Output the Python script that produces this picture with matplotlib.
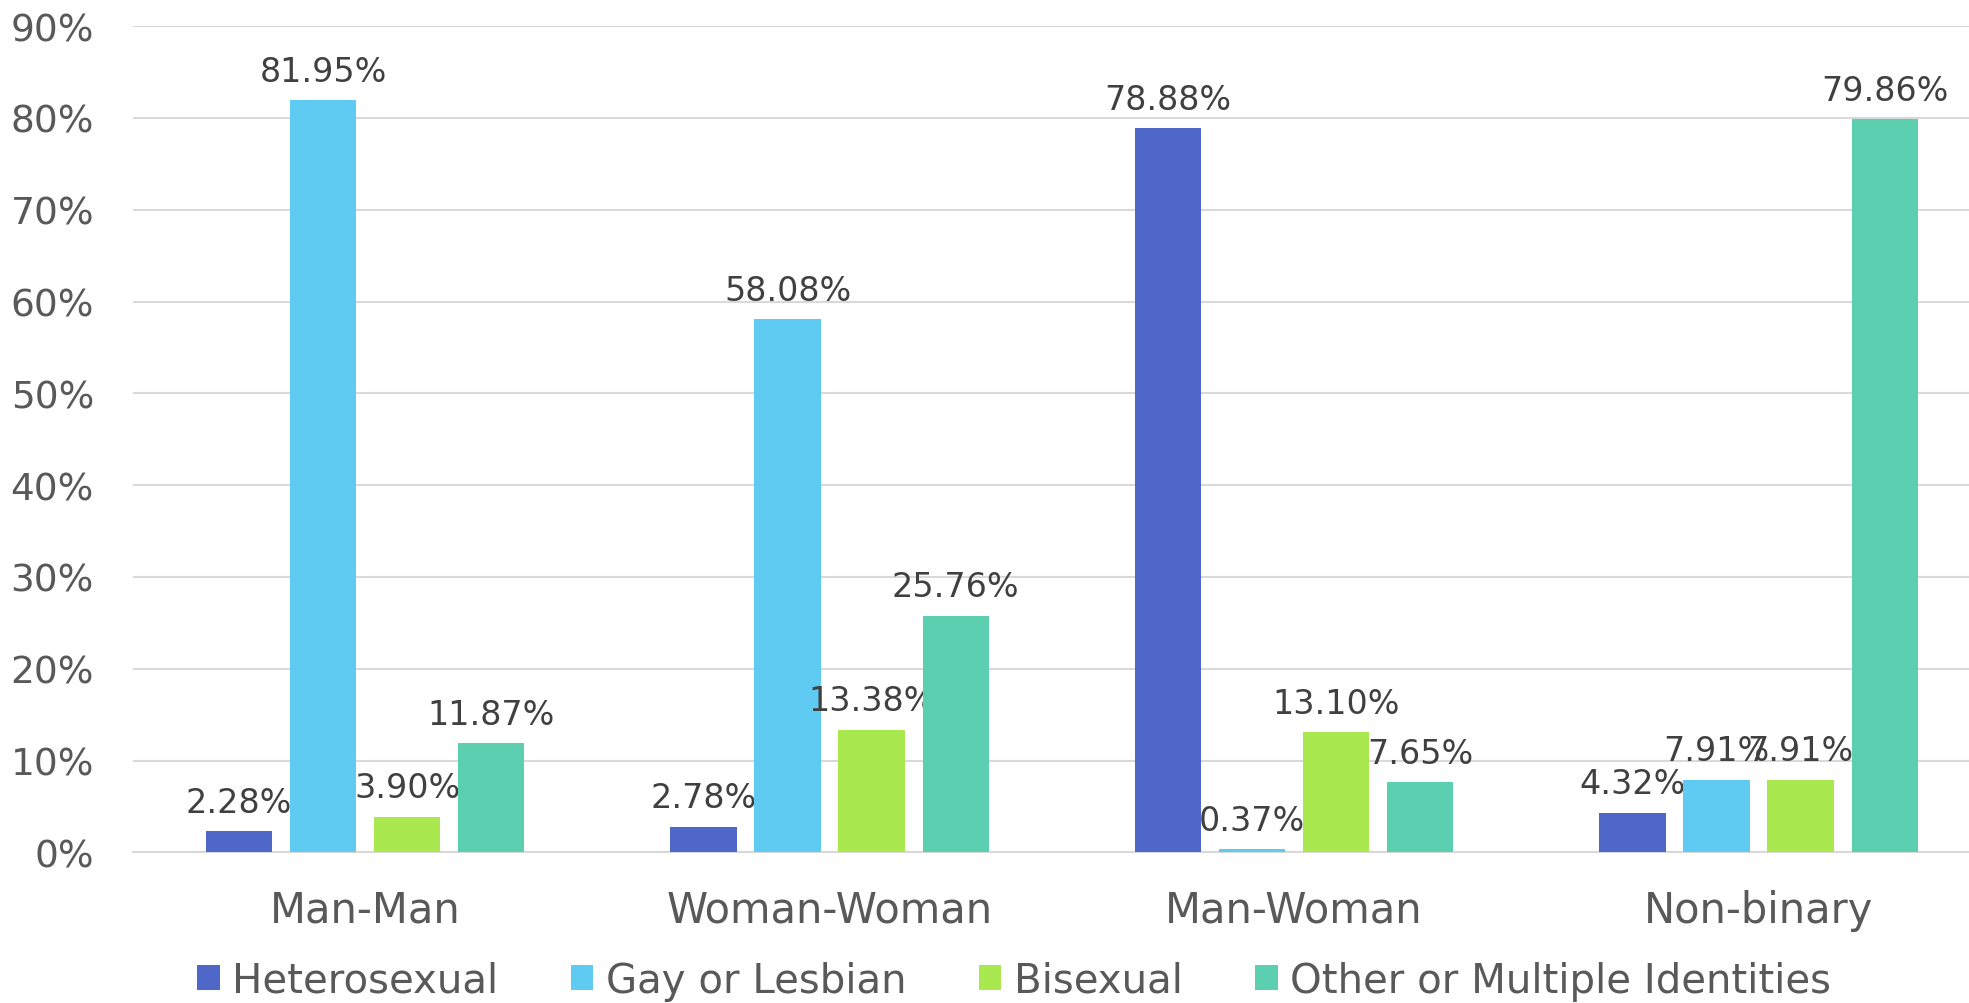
import numpy as np
import matplotlib.pyplot as plt

# Datos
categories = ["Man-Man", "Woman-Woman", "Man-Woman", "Non-binary"]
series_names = ["Heterosexual", "Gay or Lesbian", "Bisexual", "Other or Multiple Identities"]
heterosexual = [2.28, 2.78, 78.88, 4.32]
gay_lesbian = [81.95, 58.08, 0.37, 7.91]
bisexual = [3.90, 13.38, 13.10, 7.91]
other_multiple = [11.87, 25.76, 7.65, 79.86]

colors = ["#4F67C8", "#5FCBF2", "#A9E94F", "#5CCFB0"]
series = [heterosexual, gay_lesbian, bisexual, other_multiple]

plt.rcParams["font.family"] = ["DejaVu Sans"]

fig = plt.figure(figsize=(19.69, 10.04), dpi=100)
# el eje se sale un poco por la derecha, como en el original
ax = fig.add_axes([0.0675, 0.150, 0.9436, 0.823])

x = np.arange(len(categories))
width = 0.143
step = 0.181

for i, (name, vals, col) in enumerate(zip(series_names, series, colors)):
    pos = x + (i - 1.5) * step
    bars = ax.bar(pos, np.array(vals) / 100, width, color=col, label=name, zorder=3)
    for b, v in zip(bars, vals):
        ax.annotate(f"{v:.2f}%", (b.get_x() + b.get_width() / 2, b.get_height()),
                    xytext=(0, 9), textcoords="offset points", ha="center", va="bottom",
                    fontsize=24, color="#404040")

ax.set_xlim(-0.5, 3.5)
ax.set_ylim(0, 0.9)
yt = np.arange(0, 0.91, 0.1)
ax.set_yticks(yt)
ax.set_yticklabels([f"{int(round(t * 100))}%" for t in yt])
ax.set_xticks(x)
ax.set_xticklabels(categories)
ax.tick_params(axis="both", length=0, colors="#595959")
ax.tick_params(axis="x", pad=26, labelsize=30)
ax.tick_params(axis="y", pad=28, labelsize=27)

ax.grid(axis="y", color="#D9D9D9", linewidth=1.5, zorder=0)
for s in ["top", "right", "left"]:
    ax.spines[s].set_visible(False)
ax.spines["bottom"].set_color("#D9D9D9")
ax.spines["bottom"].set_linewidth(1.5)

fig.legend(loc="center", bbox_to_anchor=(0.515, 0.022), ncol=4, frameon=False,
           fontsize=29, handlelength=0.56, handleheight=0.56, handletextpad=0.31,
           columnspacing=1.8, labelcolor="#595959")

plt.savefig("out.png", dpi=100)
